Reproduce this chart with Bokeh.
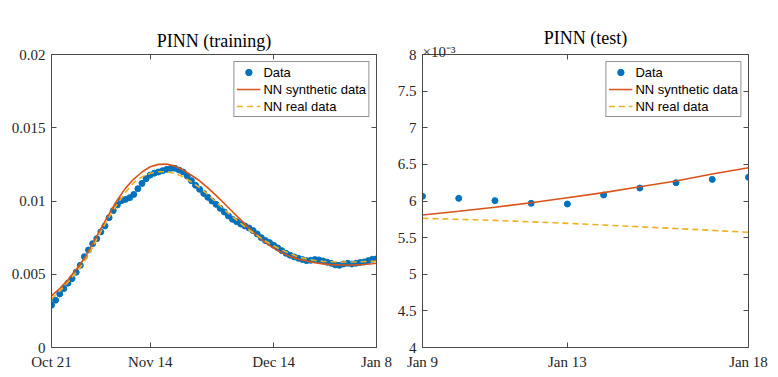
import pandas as pd
from bokeh.plotting import figure
from bokeh.models import (Range1d, FixedTicker, LinearAxis, Legend, LegendItem, Title,
                          CustomLabelingPolicy)
from bokeh.layouts import row
from bokeh.embed import file_html
from bokeh.resources import INLINE

# ---------------- data: training panel ----------------
train_start = "2020-10-21"
train_end = "2021-01-08"
train_data = [
    0.00289, 0.00323, 0.00366, 0.00402, 0.00439, 0.00470, 0.00514, 0.00561, 0.00620, 0.00666,
    0.00709, 0.00743, 0.00789, 0.00830, 0.00886, 0.00934, 0.00973, 0.01002, 0.01011, 0.01023,
    0.01045, 0.01084, 0.01120, 0.01152, 0.01177, 0.01190, 0.01198, 0.01207, 0.01216, 0.01223,
    0.01223, 0.01211, 0.01198, 0.01170, 0.01139, 0.01107, 0.01080, 0.01052, 0.01025, 0.01000,
    0.00977, 0.00950, 0.00925, 0.00898, 0.00875, 0.00859, 0.00843, 0.00830, 0.00816, 0.00798,
    0.00775, 0.00750, 0.00730, 0.00716, 0.00698, 0.00680, 0.00661, 0.00643, 0.00630, 0.00618,
    0.00609, 0.00600, 0.00593, 0.00595, 0.00600, 0.00598, 0.00591, 0.00582, 0.00575, 0.00564,
    0.00561, 0.00570, 0.00575, 0.00570, 0.00575, 0.00580, 0.00584, 0.00593, 0.00602, 0.00605,
]
# model curves sampled every 2 days (+ last day)
train_curve_dates = list(pd.date_range(train_start, "2021-01-07", freq="2D").strftime("%Y-%m-%d")) + [train_end]
train_synth = [
    0.00352, 0.00402, 0.00463, 0.00532, 0.00609, 0.00708, 0.00811, 0.00912, 0.01007, 0.01088,
    0.01150, 0.01198, 0.01234, 0.01250, 0.01252, 0.01238, 0.01211, 0.01176, 0.01138, 0.01090,
    0.01038, 0.00983, 0.00927, 0.00871, 0.00813, 0.00763, 0.00716, 0.00678, 0.00646, 0.00622,
    0.00603, 0.00590, 0.00578, 0.00571, 0.00566, 0.00564, 0.00563, 0.00564, 0.00567, 0.00572,
    0.00575,
]
train_real = [
    0.00332, 0.00385, 0.00446, 0.00512, 0.00586, 0.00685, 0.00791, 0.00890, 0.00980, 0.01060,
    0.01125, 0.01165, 0.01189, 0.01200, 0.01200, 0.01188, 0.01165, 0.01130, 0.01092, 0.01045,
    0.00993, 0.00942, 0.00892, 0.00847, 0.00803, 0.00765, 0.00727, 0.00695, 0.00665, 0.00640,
    0.00618, 0.00604, 0.00594, 0.00588, 0.00585, 0.00584, 0.00584, 0.00584, 0.00586, 0.00588,
    0.00589,
]
train_tick_dates = ["2020-10-21", "2020-11-14", "2020-12-14", "2021-01-08"]
train_tick_labels = ["Oct 21", "Nov 14", "Dec 14", "Jan 8"]
train_y_ticks = [0, 0.005, 0.01, 0.015, 0.02]
train_y_labels = ["0", "0.005", "0.01", "0.015", "0.02"]

# ---------------- data: test panel ----------------
test_start = "2021-01-09"
test_end = "2021-01-18"
test_data = [0.006064, 0.006036, 0.006005, 0.005968, 0.005959, 0.006082, 0.006177, 0.006250, 0.006295, 0.006323]
test_synth = [0.005809, 0.005859, 0.005914, 0.005977, 0.006045, 0.006114, 0.006195, 0.006273, 0.006368, 0.006455]
test_real = [0.005764, 0.005749, 0.005735, 0.005716, 0.005695, 0.005672, 0.005648, 0.005624, 0.005599, 0.005573]
test_tick_dates = ["2021-01-09", "2021-01-13", "2021-01-18"]
test_tick_labels = ["Jan 9", "Jan 13", "Jan 18"]
test_y_ticks = [4, 4.5, 5, 5.5, 6, 6.5, 7, 7.5, 8]
test_y_labels = ["4", "4.5", "5", "5.5", "6", "6.5", "7", "7.5", "8"]
test_scale = 1e-3

BLUE = "#0072BD"
RED = "#D95319"
YELLOW = "#EDB120"
AXC = "#4a4a4a"
TXT = "#262626"
SERIF = "Liberation Serif"
SANS = "Liberation Sans"

NO_LABELS = CustomLabelingPolicy(code="for (const i of indices) { indices.unset(i) } return indices")


def days(dates, base):
    return [int(d) for d in (pd.to_datetime(dates) - pd.Timestamp(base)).days]


def style_axis(ax, show_labels):
    ax.major_tick_in = 5
    ax.major_tick_out = 0
    ax.minor_tick_in = 0
    ax.minor_tick_out = 0
    ax.axis_line_color = AXC
    ax.major_tick_line_color = AXC
    ax.major_label_text_font = SERIF
    ax.major_label_text_color = TXT
    if show_labels:
        ax.major_label_text_font_size = "15px"
        ax.major_label_standoff = 6
    else:
        ax.major_label_text_font_size = "0px"
        ax.major_label_standoff = 0
        ax.major_label_policy = NO_LABELS


def make_fig(width, bl, br, title, title_standoff, xr, yr, xt, xl, yt, yl):
    p = figure(width=width, height=373, x_range=xr, y_range=yr,
               output_backend="svg", toolbar_location=None,
               min_border_left=bl, min_border_right=br,
               min_border_top=54, min_border_bottom=26)
    p.title.text = title
    p.title.align = "center"
    p.title.text_font = SERIF
    p.title.text_font_size = "18px"
    p.title.text_font_style = "normal"
    p.title.text_color = "black"
    p.title.standoff = title_standoff
    p.xgrid.visible = False
    p.ygrid.visible = False
    p.outline_line_color = AXC
    p.xaxis.ticker = FixedTicker(ticks=xt)
    p.xaxis.major_label_overrides = dict(zip(xt, xl))
    p.yaxis.ticker = FixedTicker(ticks=yt)
    p.yaxis.major_label_overrides = dict(zip(yt, yl))
    style_axis(p.xaxis[0], True)
    style_axis(p.yaxis[0], True)
    ra = LinearAxis(ticker=FixedTicker(ticks=yt))
    ta = LinearAxis(ticker=FixedTicker(ticks=xt))
    style_axis(ra, False)
    style_axis(ta, False)
    p.add_layout(ra, "right")
    p.add_layout(ta, "above")
    return p


def add_series(p, xd, yd, xc, ys, yr_):
    r0 = p.scatter(xd, yd, size=6, color=BLUE, marker="circle")
    r1 = p.line(xc, ys, line_color=RED, line_width=1.6)
    r2 = p.line(xc, yr_, line_color=YELLOW, line_width=1.6, line_dash="6 4")
    leg = Legend(items=[LegendItem(label="Data", renderers=[r0]),
                        LegendItem(label="NN synthetic data", renderers=[r1]),
                        LegendItem(label="NN real data", renderers=[r2])],
                 location="top_right", margin=7, padding=2, spacing=1,
                 glyph_width=24, glyph_height=16, label_height=16, label_standoff=3,
                 label_text_font=SANS, label_text_font_size="13px", label_text_color="black",
                 border_line_color="#262626", border_line_width=1,
                 background_fill_color="white", background_fill_alpha=1)
    p.add_layout(leg, "center")


# ---------------- left figure ----------------
tx_data = days(pd.date_range(train_start, train_end), train_start)
tx_curve = days(train_curve_dates, train_start)
tx_ticks = days(train_tick_dates, train_start)
p1 = make_fig(394, 51, 18, "PINN (training)", 7,
              Range1d(0, tx_ticks[-1]), Range1d(0, 0.02),
              tx_ticks, train_tick_labels, train_y_ticks, train_y_labels)
add_series(p1, tx_data, train_data, tx_curve, train_synth, train_real)

# ---------------- right figure ----------------
sx = days(pd.date_range(test_start, test_end), test_start)
sx_ticks = days(test_tick_dates, test_start)
p2 = make_fig(384, 28, 30, "PINN (test)", 0,
              Range1d(0, sx_ticks[-1]), Range1d(4, 8),
              sx_ticks, test_tick_labels, test_y_ticks, test_y_labels)
add_series(p2, sx, [v / test_scale for v in test_data], sx,
           [v / test_scale for v in test_synth], [v / test_scale for v in test_real])
exp_title = Title(text="×10⁻³", align="left", text_font=SERIF, text_font_size="15px",
                  text_font_style="normal", text_color=TXT, standoff=-11, offset=0)
p2.add_layout(exp_title, "above")

layout = row(p1, p2)
open("out.html", "w").write(file_html(layout, INLINE))
